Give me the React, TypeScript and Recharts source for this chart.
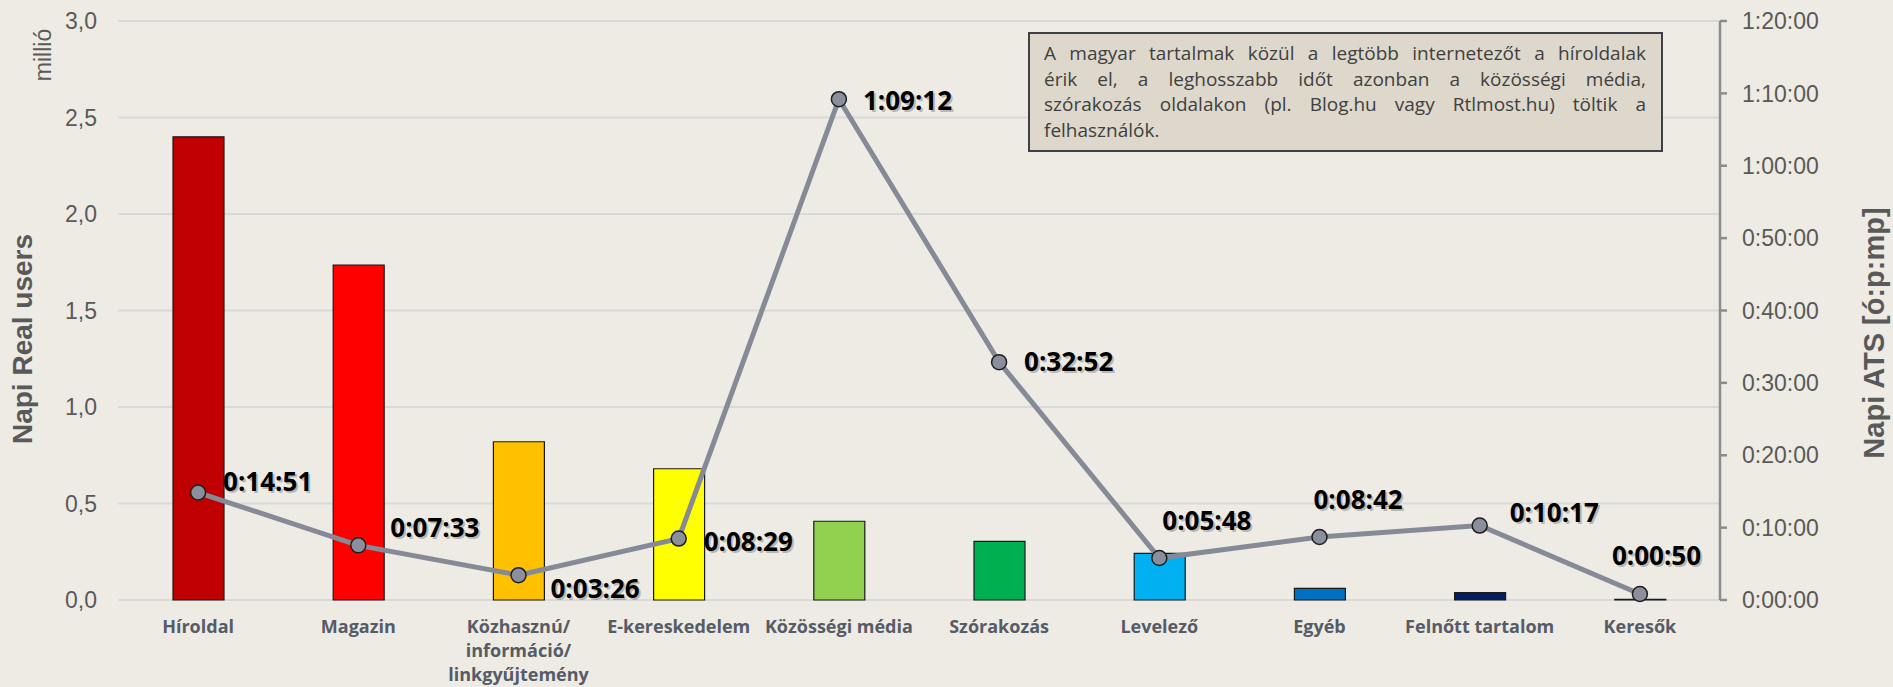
import React from "react";
import {
  ComposedChart,
  Bar,
  Line,
  XAxis,
  YAxis,
  CartesianGrid,
  Cell,
  LabelList,
} from "recharts";

// kategóriák és értékek
const categories = [
  "Híroldal",
  "Magazin",
  "Közhasznú/\ninformáció/\nlinkgyűjtemény",
  "E-kereskedelem",
  "Közösségi média",
  "Szórakozás",
  "Levelező",
  "Egyéb",
  "Felnőtt tartalom",
  "Keresők",
];
const dailyUsersMillion = [2.4, 1.735, 0.82, 0.68, 0.408, 0.304, 0.242, 0.06, 0.038, 0.004];
// napi átlagos eltöltött idő, másodpercben
const atsSeconds = [891, 453, 206, 509, 4152, 1972, 348, 522, 617, 50];

const leftTicks = [0, 0.5, 1, 1.5, 2, 2.5, 3];
const rightTicks = [0, 600, 1200, 1800, 2400, 3000, 3600, 4200, 4800];

const noteLines = [
  "A magyar tartalmak közül a legtöbb internetezőt a híroldalak",
  "érik el, a leghosszabb időt azonban a közösségi média,",
  "szórakozás oldalakon (pl. Blog.hu vagy Rtlmost.hu) töltik a",
  "felhasználók.",
];

const barColors = [
  "#C00000",
  "#FF0000",
  "#FFC000",
  "#FFFF00",
  "#92D050",
  "#00B050",
  "#00B0F0",
  "#0070C0",
  "#002060",
  "#808080",
];

// címkék eltolása a ponthoz képest
const labelOffsets = [
  [25, -11],
  [32, -18],
  [32, 13],
  [25, 3],
  [24, 1],
  [25, 0],
  [3, -37],
  [-6, -37],
  [30, -13],
  [-28, -38],
];

const data = categories.map((c, i) => ({
  category: c,
  users: dailyUsersMillion[i],
  ats: atsSeconds[i],
}));

function fmtTime(sec: number): string {
  const h = Math.floor(sec / 3600);
  const m = Math.floor((sec % 3600) / 60);
  const s = sec % 60;
  return h + ":" + String(m).padStart(2, "0") + ":" + String(s).padStart(2, "0");
}

function CategoryTick(props: any) {
  const { x, y, payload } = props;
  const lines = String(payload.value).split("\n");
  return (
    <g transform={`translate(${x},${y})`}>
      {lines.map((l, i) => (
        <text
          key={i}
          x={0}
          y={25 + i * 24}
          textAnchor="middle"
          fontFamily="Open Sans"
          fontWeight={700}
          fontSize={18}
          fill="#565B66"
        >
          {l}
        </text>
      ))}
    </g>
  );
}

function AtsLabel(props: any) {
  const { x, y, value, index } = props;
  const [dx, dy] = labelOffsets[index] || [20, 0];
  const tx = x + dx;
  const ty = y + dy;
  const txt = fmtTime(value);
  return (
    <g>
      <text
        x={tx + 2}
        y={ty + 2}
        dy="0.36em"
        fontFamily="Open Sans"
        fontWeight={700}
        fontSize={26}
        fill="#000"
        fillOpacity={0.22}
      >
        {txt}
      </text>
      <text x={tx} y={ty} dy="0.36em" fontFamily="Open Sans" fontWeight={700} fontSize={26} fill="#000">
        {txt}
      </text>
    </g>
  );
}

export default function App() {
  const tickStyle = { fontFamily: "Liberation Sans", fontSize: 23, fill: "#595959" };
  return (
    <div
      style={{
        position: "absolute",
        left: 0,
        top: 0,
        width: 1893,
        height: 687,
        background: "#EDEBE4",
        overflow: "hidden",
      }}
    >
      <ComposedChart
        width={1893}
        height={687}
        data={data}
        margin={{ top: 21, right: 73, bottom: 27, left: 58 }}
        barCategoryGap={0}
      >
        <CartesianGrid yAxisId="left" vertical={false} stroke="#D9D9D9" strokeWidth={2} />
        <XAxis
          dataKey="category"
          interval={0}
          axisLine={false}
          tickLine={false}
          height={60}
          tick={<CategoryTick />}
        />
        <YAxis
          yAxisId="left"
          width={60}
          domain={[0, 3]}
          ticks={leftTicks}
          axisLine={false}
          tickLine={false}
          tickMargin={15}
          tick={tickStyle}
          tickFormatter={(v: number) => v.toFixed(1).replace(".", ",")}
        />
        <YAxis
          yAxisId="right"
          orientation="right"
          width={100}
          domain={[0, 4800]}
          ticks={rightTicks}
          axisLine={{ stroke: "#8C8C8C", strokeWidth: 2.5 }}
          tickLine={{ stroke: "#8C8C8C", strokeWidth: 2.5 }}
          tickSize={7}
          tickMargin={15}
          tick={tickStyle}
          tickFormatter={(v: number) => fmtTime(v)}
        />
        <Bar yAxisId="left" dataKey="users" barSize={51} stroke="#1A1A1A" strokeWidth={1.2} isAnimationActive={false}>
          {data.map((d, i) => (
            <Cell key={d.category} fill={barColors[i]} />
          ))}
        </Bar>
        <Line
          yAxisId="right"
          type="linear"
          dataKey="ats"
          stroke="#868A96"
          strokeWidth={5}
          dot={{ r: 7.5, fill: "#8A8F9B", stroke: "#1E1E1E", strokeWidth: 1.5 }}
          activeDot={false}
          isAnimationActive={false}
        >
          <LabelList dataKey="ats" content={<AtsLabel />} />
        </Line>
      </ComposedChart>
      <svg
        width={1893}
        height={687}
        style={{ position: "absolute", left: 0, top: 0, pointerEvents: "none" }}
      >
        <text
          transform="translate(22,339) rotate(-90)"
          textAnchor="middle"
          dominantBaseline="central"
          fontFamily="Liberation Sans"
          fontWeight={700}
          fontSize={28}
          fill="#595959"
        >
          Napi Real users
        </text>
        <text
          transform="translate(43,55) rotate(-90)"
          textAnchor="middle"
          dominantBaseline="central"
          fontFamily="Liberation Sans"
          fontSize={23}
          fill="#595959"
        >
          millió
        </text>
        <text
          transform="translate(1874,333) rotate(-90)"
          textAnchor="middle"
          dominantBaseline="central"
          fontFamily="Liberation Sans"
          fontWeight={700}
          fontSize={29}
          fill="#595959"
        >
          Napi ATS [ó:p:mp]
        </text>
        <rect x={1029} y={33} width={633} height={118} fill="#DDD8CB" stroke="#3F3F46" strokeWidth={2} />
      </svg>
      <div
        style={{
          position: "absolute",
          left: 1044,
          top: 41,
          width: 602,
          fontFamily: "Open Sans",
          fontSize: 19,
          lineHeight: "25.5px",
          color: "#404040",
        }}
      >
        {noteLines.map((l, i) => (
          <div
            key={i}
            style={{
              whiteSpace: "nowrap",
              textAlign: "justify",
              textAlignLast: i < noteLines.length - 1 ? "justify" : "left",
            }}
          >
            {l}
          </div>
        ))}
      </div>
    </div>
  );
}
